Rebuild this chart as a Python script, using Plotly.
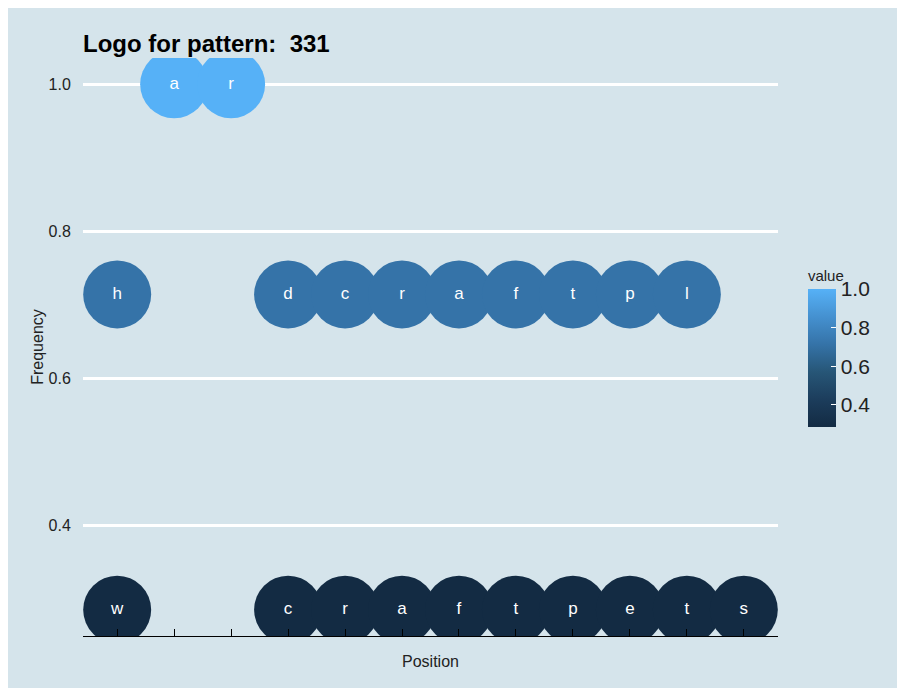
import plotly.graph_objects as go

positions = [1, 1, 2, 3, 4, 4, 5, 5, 6, 6, 7, 7, 8, 8, 9, 9, 10, 10, 11, 11, 12]
frequencies = [0.7143, 0.2857, 1.0, 1.0, 0.7143, 0.2857, 0.7143, 0.2857, 0.7143, 0.2857,
               0.7143, 0.2857, 0.7143, 0.2857, 0.7143, 0.2857, 0.7143, 0.2857, 0.7143, 0.2857, 0.2857]
letters = ["h", "w", "a", "r", "d", "c", "c", "r", "r", "a", "a", "f", "f", "t", "t", "p",
           "p", "e", "l", "t", "s"]
x_ticks = list(range(1, 13))
y_ticks = [0.4, 0.6, 0.8, 1.0]
title_text = "Logo for pattern:\u00a0\u00a0331"

BG = "#d5e4eb"
FONT = "Liberation Sans, Arial, sans-serif"
colorscale = [[0.0, "#132B43"], [0.2, "#1C3D5C"], [0.4, "#275677"],
              [0.6, "#3573A8"], [0.8, "#4591D0"], [1.0, "#56B1F7"]]

fig = go.Figure()
fig.add_trace(go.Scatter(
    x=positions, y=frequencies, mode="markers+text",
    text=letters, textposition="middle center",
    textfont=dict(family=FONT, size=17, color="white"),
    marker=dict(size=68, color=frequencies, colorscale=colorscale,
                cmin=min(frequencies), cmax=max(frequencies), line=dict(width=0),
                opacity=1,
                colorbar=dict(
                    title=dict(text="value", side="top",
                               font=dict(family=FONT, size=15, color="#222")),
                    thickness=28, thicknessmode="pixels",
                    len=160, lenmode="pixels",
                    x=1.043, xanchor="left", y=0.5, yanchor="middle",
                    outlinewidth=0, ticks="inside", ticklen=5, tickcolor="white",
                    tickvals=y_ticks, ticktext=[f"{v:.1f}" for v in y_ticks],
                    tickfont=dict(family=FONT, size=21, color="#222"),
                    bgcolor="rgba(0,0,0,0)", xpad=0, ypad=0)),
    showlegend=False, cliponaxis=True, hoverinfo="skip"))

fig.update_layout(
    width=905, height=688,
    margin=dict(l=75, r=135, t=50, b=60, autoexpand=False),
    paper_bgcolor=BG, plot_bgcolor=BG,
    font=dict(family=FONT, color="#222"),
    title=dict(text="<b>" + title_text + "</b>", x=75 / 905, xanchor="left",
               y=1 - 36 / 688, yanchor="middle",
               font=dict(size=24, color="black")),
    xaxis=dict(range=[0.4, 12.6], tickvals=x_ticks, showticklabels=False,
               ticks="inside", ticklen=7, tickcolor="black", tickwidth=1,
               showline=True, linecolor="black", linewidth=1, showgrid=False,
               zeroline=False, fixedrange=True,
               title=dict(text="Position", standoff=19,
                          font=dict(size=16, color="#222"))),
    yaxis=dict(range=[0.2500, 1.0357], tickvals=y_ticks, ticktext=[f"{v:.1f}" for v in y_ticks],
               showgrid=True, gridcolor="white", gridwidth=3, zeroline=False,
               showline=False, ticks="outside", ticklen=8, tickcolor="rgba(0,0,0,0)",
               tickfont=dict(size=16, color="#222"),
               title=dict(text="Frequency", standoff=0,
                          font=dict(size=16, color="#222"))),
)

fig.write_html("out.html")
